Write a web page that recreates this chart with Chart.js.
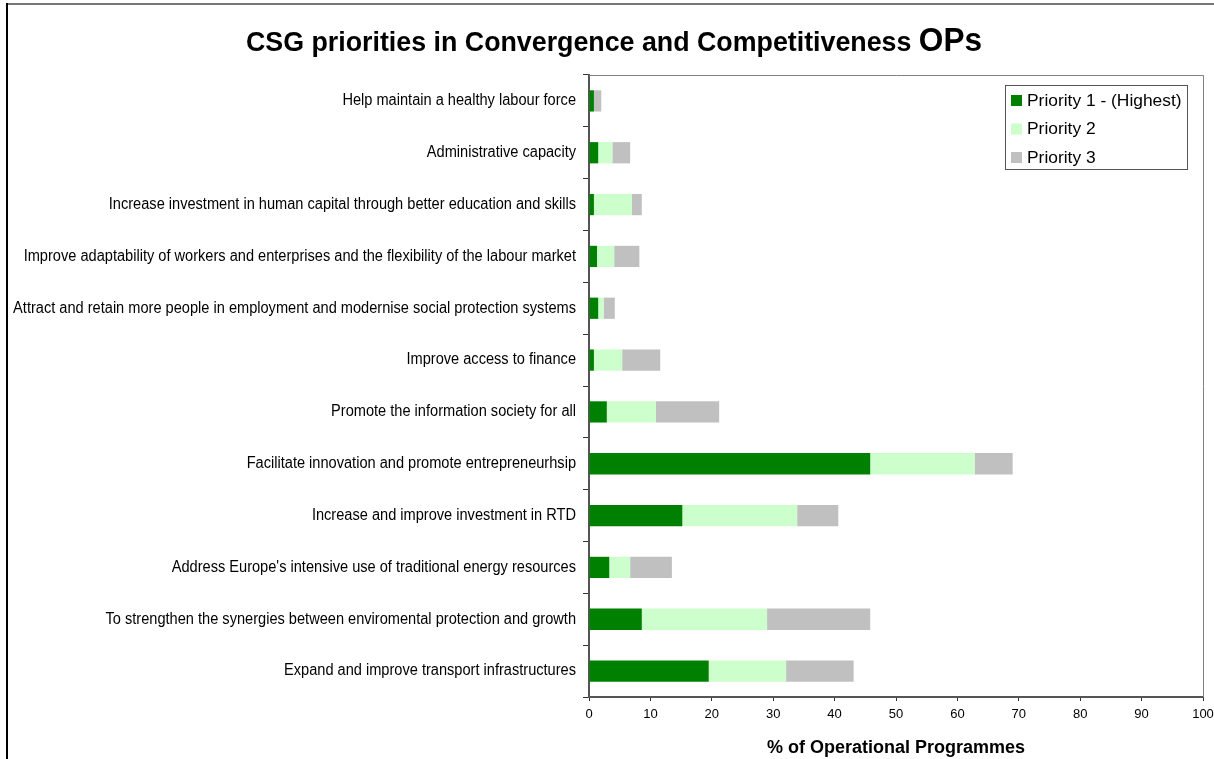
<!DOCTYPE html>
<html>
<head>
<meta charset="utf-8">
<title>CSG priorities</title>
<script src="https://cdn.jsdelivr.net/npm/chart.js@4.4.1/dist/chart.umd.min.js"></script>
<style>
  html, body { margin: 0; padding: 0; background: #fff; }
  #wrap { position: relative; width: 1214px; height: 759px; }
</style>
</head>
<body>
<div id="wrap"><canvas id="barChart" width="1214" height="759"></canvas></div>
<script>
// ---------------- Data ----------------
const categories = [
  "Help maintain a healthy labour force",
  "Administrative capacity",
  "Increase investment in human capital through better education and skills",
  "Improve adaptability of workers and enterprises and the flexibility of the labour market",
  "Attract and retain more people in employment and modernise social protection systems",
  "Improve access to finance",
  "Promote the information society for all",
  "Facilitate innovation and promote entrepreneurhsip",
  "Increase and improve investment in RTD",
  "Address Europe's intensive use of traditional energy resources",
  "To strengthen the synergies between enviromental protection and growth",
  "Expand and improve transport infrastructures"
];

const priority1 = [0.8, 1.5, 0.8, 1.3, 1.5, 0.8, 2.9, 45.8, 15.2, 3.3, 8.6, 19.5];
const priority2 = [0.0, 2.3, 6.2, 2.8, 0.9, 4.6, 8.0, 17.0, 18.7, 3.4, 20.4, 12.6];
const priority3 = [1.2, 2.9, 1.6, 4.1, 1.8, 6.2, 10.3, 6.2, 6.7, 6.8, 16.8, 11.0];

const seriesNames = ["Priority 1 - (Highest)", "Priority 2", "Priority 3"];
const xTicks = [0, 10, 20, 30, 40, 50, 60, 70, 80, 90, 100];

const FONT = "'Liberation Sans', Arial, sans-serif";

// ---------------- Frame, plot border, title, labels, legend ----------------
const decorPlugin = {
  id: "decor",
  beforeDatasetsDraw(chart) {
    const { ctx, chartArea } = chart;
    ctx.save();
    ctx.strokeStyle = "#808080";
    ctx.lineWidth = 1;
    ctx.beginPath();
    ctx.moveTo(chartArea.left, chartArea.top + 0.5);
    ctx.lineTo(chartArea.right + 0.5, chartArea.top + 0.5);
    ctx.lineTo(chartArea.right + 0.5, chartArea.bottom);
    ctx.stroke();
    ctx.restore();
  },
  afterDraw(chart) {
    const { ctx } = chart;
    const yScale = chart.scales.y;
    ctx.save();

    // outer frame
    ctx.fillStyle = "#777";
    ctx.fillRect(7, 3, 1207, 2);
    ctx.fillStyle = "#000";
    ctx.fillRect(6, 3, 2, 756);

    // title, last word set larger, narrowed like the Excel original
    const part1 = "CSG priorities in Convergence and Competitiveness ";
    const part2 = "OPs";
    ctx.fillStyle = "#000";
    ctx.textBaseline = "alphabetic";
    ctx.textAlign = "left";
    ctx.font = "bold 28px " + FONT;
    const w1 = ctx.measureText(part1).width;
    ctx.font = "bold 33px " + FONT;
    const w2 = ctx.measureText(part2).width;
    const sx = 736 / (w1 + w2);
    ctx.save();
    ctx.translate(246, 51);
    ctx.scale(sx, 1);
    ctx.font = "bold 28px " + FONT;
    ctx.fillText(part1, 0, 0);
    ctx.font = "bold 33px " + FONT;
    ctx.fillText(part2, w1, 0);
    ctx.restore();

    // category labels, condensed
    ctx.font = "16px " + FONT;
    ctx.textAlign = "right";
    ctx.textBaseline = "middle";
    chart.data.labels.forEach((label, i) => {
      const y = yScale.getPixelForValue(i);
      ctx.save();
      ctx.translate(576, y);
      ctx.scale(0.912, 1);
      ctx.fillText(label, 0, 0);
      ctx.restore();
    });

    // legend box
    const lx = 1005, ly = 85, lw = 182, lh = 84;
    ctx.fillStyle = "#fff";
    ctx.fillRect(lx, ly, lw, lh);
    ctx.strokeStyle = "#555";
    ctx.lineWidth = 1;
    ctx.strokeRect(lx + 0.5, ly + 0.5, lw, lh);
    ctx.font = "17.4px " + FONT;
    ctx.textAlign = "left";
    ctx.textBaseline = "middle";
    chart.data.datasets.forEach((ds, i) => {
      const cy = ly + 15 + i * 28.5;
      ctx.fillStyle = ds.backgroundColor;
      ctx.fillRect(lx + 6, cy - 5, 11, 11);
      ctx.fillStyle = "#000";
      ctx.fillText(ds.label, lx + 22, cy + 1);
    });

    ctx.restore();
  }
};

// ---------------- Chart ----------------
const ctxBar = document.getElementById("barChart").getContext("2d");
new Chart(ctxBar, {
  type: "bar",
  data: {
    labels: categories,
    datasets: [
      { label: seriesNames[0], data: priority1, backgroundColor: "#008000" },
      { label: seriesNames[1], data: priority2, backgroundColor: "#CCFFCC" },
      { label: seriesNames[2], data: priority3, backgroundColor: "#C0C0C0" }
    ]
  },
  options: {
    indexAxis: "y",
    responsive: false,
    animation: false,
    layout: { padding: { top: 75, right: 11, left: 0, bottom: 0 } },
    datasets: {
      bar: { barPercentage: 1, categoryPercentage: 0.41, borderWidth: 0 }
    },
    plugins: {
      legend: { display: false },
      title: { display: false },
      tooltip: { enabled: false }
    },
    scales: {
      x: {
        stacked: true,
        min: 0,
        max: 100,
        afterBuildTicks: (scale) => { scale.ticks = xTicks.map(v => ({ value: v })); },
        afterFit: (scale) => {
          scale.height = 62;
          scale.paddingLeft = 0;
          scale.paddingRight = 0;
        },
        grid: { drawOnChartArea: false, drawTicks: true, tickLength: 4, color: "#333" },
        border: { display: true, color: "#555", width: 2 },
        ticks: {
          color: "#000",
          padding: 6,
          maxRotation: 0,
          font: { family: FONT, size: 13 }
        },
        title: {
          display: true,
          text: "% of Operational Programmes",
          color: "#000",
          padding: { top: 3, bottom: 0 },
          font: { family: FONT, size: 18, weight: "bold" }
        }
      },
      y: {
        stacked: true,
        afterFit: (scale) => { scale.width = 589; },
        grid: { drawOnChartArea: false, drawTicks: true, tickLength: 6, color: "#333", offset: true },
        border: { display: true, color: "#555", width: 2 },
        ticks: { display: false, autoSkip: false }
      }
    }
  },
  plugins: [decorPlugin]
});
</script>
</body>
</html>
